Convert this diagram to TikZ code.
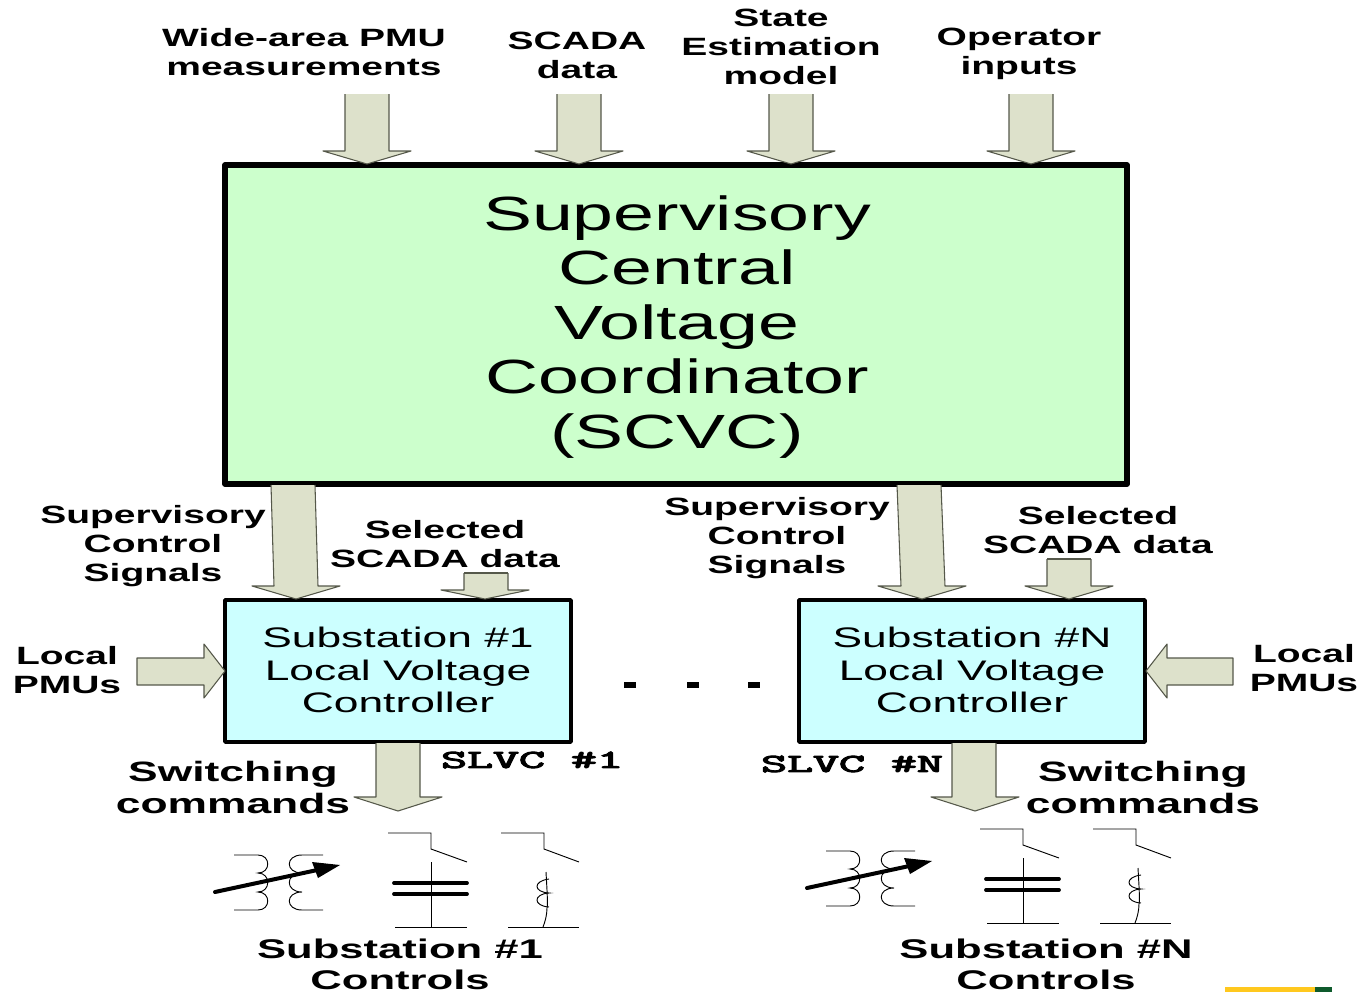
\documentclass[tikz,border=0pt]{standalone}
\usepackage{fontspec}
\setmainfont{Liberation Sans}
\newfontfamily\slvcfont[FakeBold=3.5]{Latin Modern Mono}
\definecolor{arrowfill}{HTML}{DDE1CB}
\definecolor{arrowline}{HTML}{55584A}
\definecolor{supgreen}{HTML}{CCFFCC}
\definecolor{subcyan}{HTML}{CCFFFF}
\definecolor{logoyellow}{HTML}{FFC81E}
\definecolor{logogreen}{HTML}{0E5A2C}
\tikzset{
  lbl/.style={align=center,inner sep=0pt,transform shape,xscale=1.56,font=\bfseries\fontsize{18.75}{21.75}\selectfont},
  swlbl/.style={align=center,inner sep=0pt,transform shape,xscale=1.585,font=\bfseries\fontsize{21}{24}\selectfont},
  ctl/.style={align=center,inner sep=0pt,transform shape,xscale=1.615,font=\bfseries\fontsize{20.25}{23.25}\selectfont},
  slvc/.style={inner sep=0pt,transform shape,xscale=1.94,font=\slvcfont\fontsize{19.5}{22}\selectfont},
  bigbox/.style={draw=black,line width=4pt,fill=supgreen,line join=round},
  subbox/.style={draw=black,line width=2.8pt,fill=subcyan,line join=round},
  bigtxt/.style={align=center,inner sep=0pt,transform shape,xscale=1.53,font=\fontsize{36}{40.9}\selectfont},
  subtxt/.style={align=center,inner sep=0pt,transform shape,xscale=1.57,font=\fontsize{21.2}{24.4}\selectfont},
  blk/.style={fill=arrowfill,draw=none},
  blkedge/.style={draw=arrowline,line width=0.8pt,line join=round},
  thin sym/.style={draw=black,line width=0.7pt},
  capplate/.style={draw=black,line width=2.8pt,line cap=round},
}
% vertical block arrow: top-left x, top y, neck-left x, neck y, tip x, tip y
\newcommand{\vblock}[6]{%
  \fill[blk] (#1,#2) -- (#1+44,#2) -- (#3+44,#4) -- (#5+44,#4) -- (#5,#6) -- (#5-44,#4) -- (#3,#4) -- cycle;
  \draw[blkedge] (#1,#2) -- (#3,#4) -- (#5-44,#4) -- (#5,#6) -- (#5+44,#4) -- (#3+44,#4) -- (#1+44,#2);
}
\newcommand{\controlsym}{%
  % transformer
  \draw[thin sym] (234,855) -- (258,855) .. controls (271,855) and (271,873) .. (258,873)
     .. controls (271,873) and (271,892) .. (258,892) .. controls (271,892) and (271,910) .. (258,910) -- (234,910);
  \draw[thin sym] (323,855) -- (302,855) .. controls (285,855) and (285,873) .. (302,873)
     .. controls (285,873) and (285,892) .. (302,892) .. controls (285,892) and (285,910) .. (302,910) -- (323,910);
  \draw[draw=black,line width=3pt,line cap=round] (215,892) -- (322,869);
  \fill[black] (340,865) -- (312,862) -- (318,878) -- cycle;
  % capacitor branch
  \draw[thin sym] (388,833) -- (431,833) -- (431,849) -- (467,862);
  \draw[thin sym] (431,862) -- (431,927);
  \draw[capplate] (394,883) -- (467,883);
  \draw[capplate] (394,894) -- (467,894);
  \draw[thin sym] (395,927) -- (467,927);
  % reactor branch
  \draw[thin sym] (501,833) -- (544,833) -- (544,849) -- (579,862);
  \draw[thin sym] (546,872) .. controls (547,890) and (548,905) .. (547,908) .. controls (547,915) and (545,922) .. (543,927);
  \draw[thin sym] (549,879) .. controls (533,881) and (533,892) .. (549,893) .. controls (533,894) and (533,906) .. (549,907);
  \draw[thin sym] (508,927) -- (579,927);
}
\begin{document}
\begin{tikzpicture}[x=0.75pt,y=-0.75pt]
\useasboundingbox (0,0) rectangle (1360,992);
\clip (0,0) rectangle (1360,992);
% logo fragment
\fill[logoyellow] (1225,987) rectangle (1315,992);
\fill[logogreen] (1315,987) rectangle (1332,992);
% main boxes
\draw[bigbox] (225,165) rectangle (1127,484);
\draw[subbox] (225,600) rectangle (571,742);
\draw[subbox] (799,600) rectangle (1145,742);
\node[bigtxt] (scvc) at (677,327) {Supervisory\\Central\\Voltage\\Coordinator\\(SCVC)};
\node[subtxt] (subone) at (398,670) {Substation \#1\\Local Voltage\\Controller};
\node[subtxt] (subn) at (972,670) {Substation \#N\\Local Voltage\\Controller};
% top input arrows
\vblock{345}{94}{345}{151}{367}{164}
\vblock{557}{94}{557}{151}{579}{164}
\vblock{769}{94}{769}{151}{791}{164}
\vblock{1009}{94}{1009}{151}{1031}{164}
% supervisory arrows
\vblock{271}{485}{274}{586}{296}{599}
\vblock{897}{485}{901}{586}{922}{599}
% selected data arrows
\vblock{464}{573}{464}{590}{485}{599}
\vblock{1047}{559}{1047}{586}{1069}{599}
\draw[blkedge] (464,573) -- (508,573);
\draw[blkedge] (1047,559) -- (1091,559);
% switching arrows
\vblock{376}{743}{376}{797}{398}{811}
\vblock{952}{743}{952}{797}{975}{811}
% local PMU arrows
\draw[blkedge,fill=arrowfill] (137,658) -- (204,658) -- (204,644) -- (225,671) -- (204,698) -- (204,685) -- (137,685) -- cycle;
\draw[blkedge,fill=arrowfill] (1233,658) -- (1167,658) -- (1167,644) -- (1146,671) -- (1167,698) -- (1167,685) -- (1233,685) -- cycle;
% labels
\node[lbl] (wide) at (304,52) {Wide-area PMU\\measurements};
\node[lbl] (scada) at (577,55) {SCADA\\data};
\node[lbl] (state) at (781,47) {State\\Estimation\\model};
\node[lbl] (oper) at (1019,54) {Operator\\inputs};
\node[lbl] (sup1) at (153,546) {Supervisory\\Control\\Signals};
\node[lbl] (supn) at (777,538) {Supervisory\\Control\\Signals};
\node[lbl] (sel1) at (445,544) {Selected\\SCADA data};
\node[lbl] (seln) at (1098,530) {Selected\\SCADA data};
\node[lbl] (loc1) at (67,670) {Local\\PMUs};
\node[lbl] (locn) at (1304,668) {Local\\PMUs};
\node[swlbl] (sw1) at (233,787) {Switching\\commands};
\node[swlbl] (swn) at (1143,787) {Switching\\commands};
\node[slvc] (slvc1) at (532,760) {SLVC \#1};
\node[slvc] (slvcn) at (852,764) {SLVC \#N};
\node[ctl] (ctl1) at (400,964) {Substation \#1\\Controls};
\node[ctl] (ctln) at (1046,964) {Substation \#N\\Controls};
% ellipsis dashes
\fill[black] (624,682) rectangle (636,688);
\fill[black] (687,682) rectangle (699,688);
\fill[black] (748,682) rectangle (760,688);
% substation control symbols
\begin{scope}
\controlsym
\end{scope}
\begin{scope}[shift={(592,-4)}]
\controlsym
\end{scope}
\end{tikzpicture}
\end{document}
